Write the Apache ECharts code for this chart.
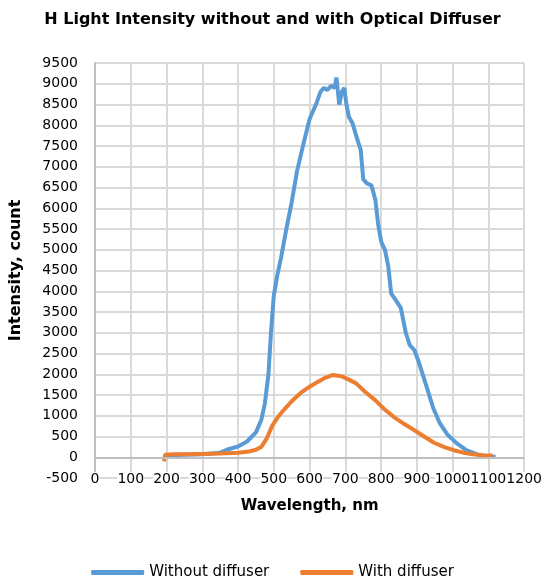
<!DOCTYPE html>
<html><head><meta charset="utf-8">
<script src="https://cdn.jsdelivr.net/npm/echarts@6/dist/echarts.min.js"></script>
<style>html,body{margin:0;padding:0;background:#fff}#c{width:545px;height:579px}</style>
</head><body><div id="c"></div>
<script>
// Wavelength (nm) / intensity (count) pairs
const withoutWl = [200,250,300,350,375,400,425,450,465,475,485,492,500,510,520,535,550,565,580,590,600,610,620,630,640,650,660,670,675,683,690,697,703,710,720,732,743,750,760,773,784,792,800,811,820,828,840,855,869,880,893,905,918,929,945,964,985,1011,1038,1074,1100,1120];
const withoutVal = [50,60,70,110,200,260,380,600,900,1300,2000,3000,3900,4400,4800,5500,6150,6900,7450,7800,8150,8350,8550,8800,8900,8850,8950,8900,9150,8500,8800,8900,8500,8200,8050,7700,7400,6700,6600,6550,6200,5600,5200,4990,4600,3950,3800,3600,3000,2700,2580,2300,1950,1650,1200,820,550,340,170,50,20,10];
const withWl = [193,196,220,250,300,350,400,430,450,465,480,495,510,527,550,575,600,620,640,664,690,710,730,755,784,810,839,865,893,920,948,975,1003,1030,1057,1085,1112];
const withVal = [-100,60,70,70,80,90,110,140,180,250,450,750,950,1130,1350,1550,1700,1800,1900,1980,1950,1870,1780,1580,1370,1150,950,800,650,500,350,250,170,110,70,50,40];
const seriesNames = ['Without diffuser','With diffuser'];
const titleText = 'H Light Intensity without and with Optical Diffuser';

const pairs = (xs, ys) => xs.map((x, i) => [x, ys[i]]);
const FONT = 'DejaVu Sans';
const plain = v => String(v);
const chart = echarts.init(document.getElementById('c'), null, {renderer: 'canvas'});
chart.setOption({
  animation: false,
  title: {text: titleText, left: 'center', top: 7,
    textStyle: {fontFamily: FONT, fontWeight: 'bold', fontSize: 16, color: '#000'}},
  grid: {left: 90, right: 16, top: 63, bottom: 101},
  legend: {top: 560, left: 'center', itemWidth: 53, itemHeight: 5, itemGap: 31, icon: 'roundRect',
    textStyle: {fontFamily: FONT, fontSize: 15, color: '#000'}, data: seriesNames},
  xAxis: {type: 'value', min: 0, max: 1200, interval: 100,
    name: 'Wavelength, nm', nameLocation: 'middle', nameGap: 21,
    nameTextStyle: {fontFamily: FONT, fontWeight: 'bold', fontSize: 15, color: '#000'},
    axisLine: {show: false, onZero: false}, axisTick: {show: false},
    axisLabel: {fontFamily: FONT, fontSize: 14, color: '#000', margin: -6, formatter: plain,
      backgroundColor: '#fff', showMinLabel: true, showMaxLabel: true, hideOverlap: false},
    splitLine: {show: true, lineStyle: {color: '#d9d9d9', width: 2}}},
  yAxis: {type: 'value', min: -500, max: 9500, interval: 500,
    name: 'Intensity, count', nameLocation: 'middle', nameGap: 71,
    nameTextStyle: {fontFamily: FONT, fontWeight: 'bold', fontSize: 16, color: '#000'},
    axisLine: {show: true, lineStyle: {color: '#bfbfbf', width: 2}}, axisTick: {show: false},
    axisLabel: {fontFamily: FONT, fontSize: 14, color: '#000', margin: 17, formatter: plain},
    splitLine: {show: true, lineStyle: {color: '#d9d9d9', width: 2}}},
  series: [
    {name: seriesNames[0], type: 'line', data: pairs(withoutWl, withoutVal), showSymbol: false,
      lineStyle: {color: '#5B9BD5', width: 4}, itemStyle: {color: '#5B9BD5'}, z: 2,
      markLine: {silent: true, symbol: 'none', label: {show: false},
        lineStyle: {color: '#bfbfbf', width: 2, type: 'solid'}, data: [{yAxis: 0}]}},
    {name: seriesNames[1], type: 'line', data: pairs(withWl, withVal), showSymbol: false,
      lineStyle: {color: '#ED7D31', width: 4}, itemStyle: {color: '#ED7D31'}, z: 3}
  ]
});
</script></body></html>
